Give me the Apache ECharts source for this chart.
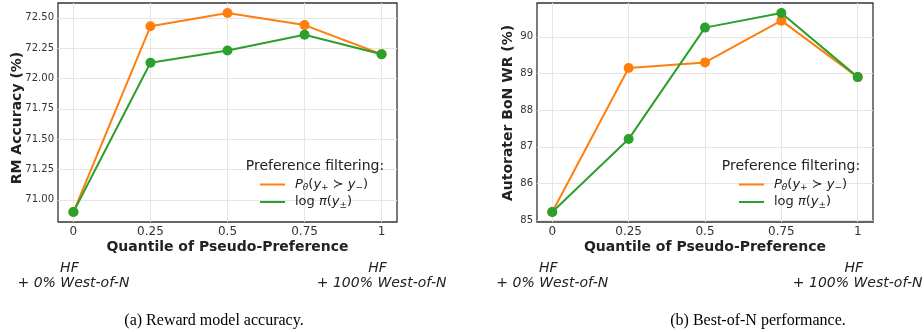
<!DOCTYPE html>
<html><head><meta charset="utf-8">
<script src="https://cdn.jsdelivr.net/npm/echarts@6/dist/echarts.min.js"></script>
<style>html,body{margin:0;padding:0;background:#fff}#c{width:924px;height:332px}</style>
</head><body><div id="c"></div>
<script>
// ---- data ----
const quantiles = [0, 0.25, 0.5, 0.75, 1];
const rmAccPtheta = [70.90, 72.43, 72.54, 72.44, 72.20];
const rmAccLogpi  = [70.90, 72.13, 72.23, 72.36, 72.20];
const bonPtheta   = [85.22, 89.15, 89.30, 90.44, 88.90];
const bonLogpi    = [85.22, 87.21, 90.25, 90.65, 88.90];
const rmYTicks  = [71.00, 71.25, 71.50, 71.75, 72.00, 72.25, 72.50];
const bonYTicks = [85, 86, 87, 88, 89, 90];
const xTicks = [0, 0.25, 0.5, 0.75, 1];
const endTop = ['HF', 'HF'];
const endBottom = ['+ 0% West-of-N', '+ 100% West-of-N'];
const yNames = ['RM Accuracy (%)', 'Autorater BoN WR (%)'];
const xName = 'Quantile of Pseudo-Preference';
const captions = ['(a) Reward model accuracy.', '(b) Best-of-N performance.'];
const legendTitle = 'Preference filtering:';

const ORANGE = '#ff7f0e', GREEN = '#2ca02c';
const FONT = 'DejaVu Sans';

function pad(arrs) {
  const all = [].concat(...arrs);
  const lo = Math.min(...all), hi = Math.max(...all), r = hi - lo;
  return [lo - 0.05 * r, hi + 0.05 * r];
}
const rmRange = pad([rmAccPtheta, rmAccLogpi]);
const bonRange = pad([bonPtheta, bonLogpi]);

const grids = [
  {left: 58, top: 3, width: 339, height: 219},
  {left: 537, top: 3, width: 336, height: 219}
];

function xAxis(i) {
  return {
    type: 'value', gridIndex: i, min: -0.05, max: 1.05,
    axisLine: {show: false},
    axisTick: {show: false, customValues: xTicks},
    axisLabel: {customValues: xTicks, color: '#333', fontFamily: FONT, fontSize: 12, margin: 4,
      formatter: v => String(v)},
    splitLine: {show: true, lineStyle: {color: '#e6e6e6', width: 1}}
  };
}
function yAxis(i, range, ticks, dec) {
  return {
    type: 'value', gridIndex: i, min: range[0], max: range[1],
    axisLine: {show: false},
    axisTick: {show: false, customValues: ticks},
    axisLabel: {customValues: ticks, color: '#333', fontFamily: FONT, fontSize: 10, margin: 4,
      formatter: v => v.toFixed(dec)},
    splitLine: {show: true, lineStyle: {color: '#e6e6e6', width: 1}}
  };
}
function series(name, i, ys, color) {
  return {
    name, type: 'line', xAxisIndex: i, yAxisIndex: i,
    data: quantiles.map((q, k) => [q, ys[k]]),
    symbol: 'circle', symbolSize: 10, showSymbol: true,
    lineStyle: {color, width: 2}, itemStyle: {color},
    emphasis: {disabled: true}, animation: false
  };
}
const legendRich = {
  n: {fontFamily: FONT, fontSize: 13, color: '#222', lineHeight: 16, verticalAlign: 'middle'},
  i: {fontFamily: FONT, fontStyle: 'italic', fontSize: 13, color: '#222', lineHeight: 16, verticalAlign: 'middle'},
  s: {fontFamily: FONT, fontStyle: 'italic', fontSize: 9, color: '#222', lineHeight: 9, verticalAlign: 'bottom'},
  su: {fontFamily: FONT, fontSize: 9, color: '#222', lineHeight: 9, verticalAlign: 'bottom'}
};
const legendFmt = name => name.startsWith('p')
  ? '{i|P}{s|θ}{n|(}{i|y}{su|+}{n| ≻ }{i|y}{su|−}{n|)}'
  : '{n|log }{i|π}{n|(}{i|y}{su|±}{n|)}';
function legend(i, left, top) {
  return {
    data: i === 0 ? ['pA', 'lA'] : ['pB', 'lB'],
    orient: 'vertical', left, top, icon: 'rect', itemWidth: 25, itemHeight: 2,
    itemGap: 3, selectedMode: false, formatter: legendFmt,
    textStyle: {rich: legendRich, padding: [0, 0, 0, 5]}
  };
}

const chart = echarts.init(document.getElementById('c'), null, {renderer: 'canvas'});
chart.setOption({
  animation: false,
  backgroundColor: '#fff',
  grid: grids.map(g => Object.assign({show: true, borderColor: '#333', borderWidth: 1.3, backgroundColor: '#fff'}, g)),
  xAxis: [xAxis(0), xAxis(1)],
  yAxis: [yAxis(0, rmRange, rmYTicks, 2), yAxis(1, bonRange, bonYTicks, 0)],
  legend: [legend(0, 255, 173), legend(1, 734, 173)],
  series: [
    series('pA', 0, rmAccPtheta, ORANGE), series('lA', 0, rmAccLogpi, GREEN),
    series('pB', 1, bonPtheta, ORANGE), series('lB', 1, bonLogpi, GREEN)
  ]
});

// texts positioned from axes
const g = [];
const txt = (x, y, text, style, rot) => g.push({type: 'text', x, y, rotation: rot || 0, silent: true,
  style: Object.assign({text, fill: '#222', fontFamily: FONT, align: 'center', verticalAlign: 'middle'}, style)});
[0, 1].forEach(i => {
  const gr = grids[i];
  const cx = gr.left + gr.width / 2;
  const bottom = gr.top + gr.height;
  [0, 1].forEach(k => {
    const px = chart.convertToPixel({xAxisIndex: i}, xTicks[k === 0 ? 0 : xTicks.length - 1]);
    txt(px - 4, 268, endTop[k], {fontSize: 14, fontStyle: 'italic'});
    txt(px, 283, endBottom[k], {fontSize: 14, fontStyle: 'italic'});
  });
  txt(cx, bottom + 25, xName, {fontSize: 14, fontWeight: 'bold'});
  txt(i === 0 ? 17 : 508, i === 0 ? 118 : 113, yNames[i], {fontSize: 14, fontWeight: 'bold'}, Math.PI / 2);
  txt(gr.left + gr.width - 82, 166, legendTitle, {fontSize: 14});
  txt(i === 0 ? 214 : 758, 321, captions[i], {fontSize: 16, fontFamily: 'Liberation Serif', fill: '#000'});
});
chart.setOption({graphic: g});
</script></body></html>
